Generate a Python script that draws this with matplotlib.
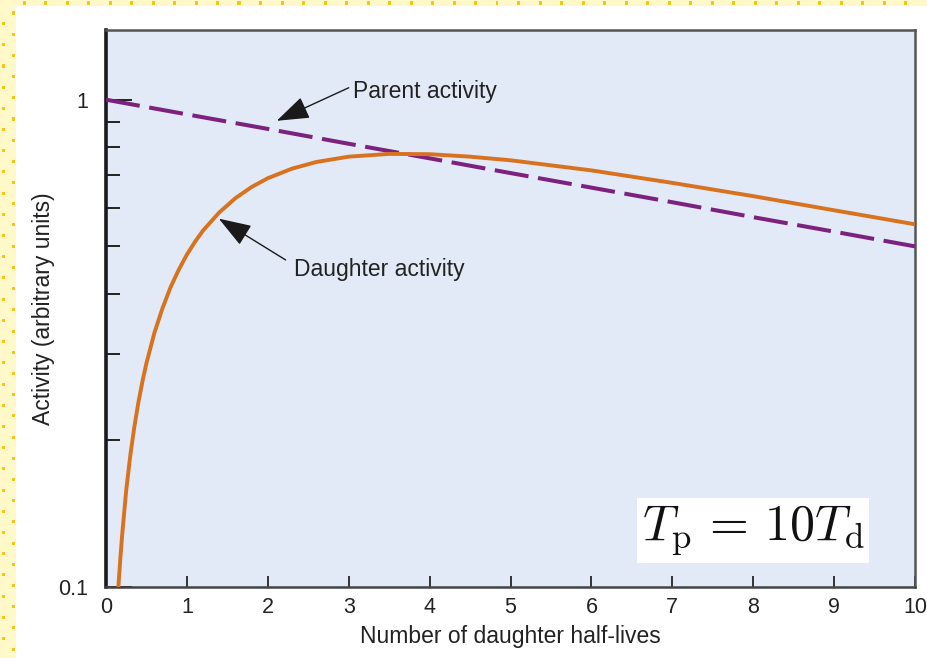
import matplotlib
matplotlib.use("Agg")
import matplotlib.pyplot as plt
from matplotlib.patches import Rectangle
from matplotlib.ticker import FixedLocator, NullFormatter

plt.rcParams["font.family"] = ["Liberation Sans", "DejaVu Sans"]
plt.rcParams["mathtext.fontset"] = "cm"

# Time in units of daughter half-lives
parent_t = [0, 1, 2, 3, 4, 5, 6, 7, 8, 9, 10]
parent_activity = [1.0, 0.933, 0.871, 0.812, 0.758, 0.707, 0.660, 0.616, 0.574, 0.536, 0.5]

daughter_t = [0.15, 0.16, 0.18, 0.2, 0.25, 0.3, 0.35, 0.4, 0.45, 0.5, 0.6, 0.7, 0.8, 0.9,
              1.0, 1.1, 1.2, 1.4, 1.6, 1.8, 2.0, 2.3, 2.6, 3.0, 3.5, 4.0, 4.5, 5.0,
              6.0, 7.0, 8.0, 9.0, 10.0]
daughter_activity = [0.098, 0.104, 0.116, 0.128, 0.158, 0.186, 0.213, 0.239, 0.264, 0.288,
                     0.333, 0.374, 0.413, 0.448, 0.481, 0.511, 0.539, 0.587, 0.628, 0.662,
                     0.690, 0.722, 0.745, 0.764, 0.774, 0.773, 0.764, 0.751,
                     0.716, 0.675, 0.634, 0.593, 0.555]

x_ticks = [0, 1, 2, 3, 4, 5, 6, 7, 8, 9, 10]
y_major = [0.1, 1]
y_major_labels = ["0.1", "1"]
y_minor = [0.2, 0.3, 0.4, 0.5, 0.6, 0.7, 0.8, 0.9]

W, H = 927, 658
fig = plt.figure(figsize=(W / 100, H / 100), dpi=100)
fig.patch.set_facecolor("#FFF9C9")

# White page with a dotted yellow margin
fig.patches.append(Rectangle((16 / W, 0), 1 - 16 / W, 1 - 6 / H, transform=fig.transFigure,
                             facecolor="white", edgecolor="none", zorder=-3))
dot_kw = dict(transform=fig.transFigure, facecolor="#F5C518", edgecolor="none", zorder=-2)
x = 24.0
while x < W:
    fig.patches.append(Rectangle(((x - 1.5) / W, 1 - 4.5 / H), 3 / W, 3 / H, **dot_kw))
    x += 21.5
y = 13.0
k = 0
while y < H:
    xx = 13 if k % 2 == 0 else 3
    fig.patches.append(Rectangle(((xx - 1.5) / W, 1 - (y + 1.5) / H), 3 / W, 3 / H, **dot_kw))
    y += 10.6
    k += 1

ax = fig.add_axes([106 / W, 1 - 587 / H, 809 / W, 557 / H])
ax.set_facecolor("#E1EAF6")

ax.plot(parent_t, parent_activity, color="#7D217F", lw=2.9, dashes=(8.5, 2.4),
        solid_capstyle="butt", dash_capstyle="butt", zorder=3)
ax.plot(daughter_t, daughter_activity, color="#D8721F", lw=2.8, zorder=4)

ax.set_yscale("log")
ax.set_xlim(0, 10)
ax.set_ylim(0.1, 1.39)

ax.xaxis.set_major_locator(FixedLocator(x_ticks))
ax.set_xticklabels([str(v) for v in x_ticks])
ax.yaxis.set_major_locator(FixedLocator(y_major))
ax.set_yticklabels(y_major_labels)
ax.yaxis.set_minor_locator(FixedLocator(y_minor))
ax.yaxis.set_minor_formatter(NullFormatter())
ax.xaxis.set_minor_locator(FixedLocator([]))

ax.tick_params(axis="x", direction="in", length=8, width=1.4, color="#333333",
               labelsize=15.5, pad=7, labelcolor="#222222")
ax.tick_params(axis="y", which="major", direction="in", length=19, width=1.4,
               color="#222222", labelsize=15.5, pad=13, labelcolor="#222222")
ax.tick_params(axis="y", which="minor", direction="in", length=10, width=1.4,
               color="#222222")
for lbl in ax.get_yticklabels():
    lbl.set_verticalalignment("center_baseline")

for side in ["top", "right"]:
    ax.spines[side].set_color("#555555")
    ax.spines[side].set_linewidth(1.8)
ax.spines["bottom"].set_color("#444444")
ax.spines["bottom"].set_linewidth(1.8)
ax.spines["left"].set_color("#1a1a1a")
ax.spines["left"].set_linewidth(2.6)

ax.set_xlabel("Number of daughter half-lives", fontsize=16.5, color="#222222", labelpad=5)
ax.set_ylabel("Activity (arbitrary units)", fontsize=16.5, color="#222222", labelpad=2)

arrow = dict(arrowstyle="-|>,head_length=1.2,head_width=0.42", color="#1a1a1a",
             lw=1.0, mutation_scale=17, shrinkA=0, shrinkB=0)
ax.annotate("", xy=(2.11, 0.905), xytext=(3.0, 1.058), arrowprops=arrow, zorder=5)
ax.text(3.05, 1.038, "Parent activity", fontsize=16.5, color="#222222",
        ha="left", va="center", zorder=5)
ax.annotate("", xy=(1.395, 0.570), xytext=(2.22, 0.469), arrowprops=arrow, zorder=5)
ax.text(2.32, 0.448, "Daughter activity", fontsize=16.5, color="#222222",
        ha="left", va="center", zorder=5)

ax.text(0.80, 0.101, r"$T_{\mathrm{p}}\,=\,10T_{\mathrm{d}}$", transform=ax.transAxes,
        fontsize=36, color="#111111", ha="center", va="center", zorder=6,
        bbox=dict(boxstyle="square,pad=0.1", facecolor="white", edgecolor="none"))

fig.savefig("out.png", dpi=100, facecolor=fig.get_facecolor())
